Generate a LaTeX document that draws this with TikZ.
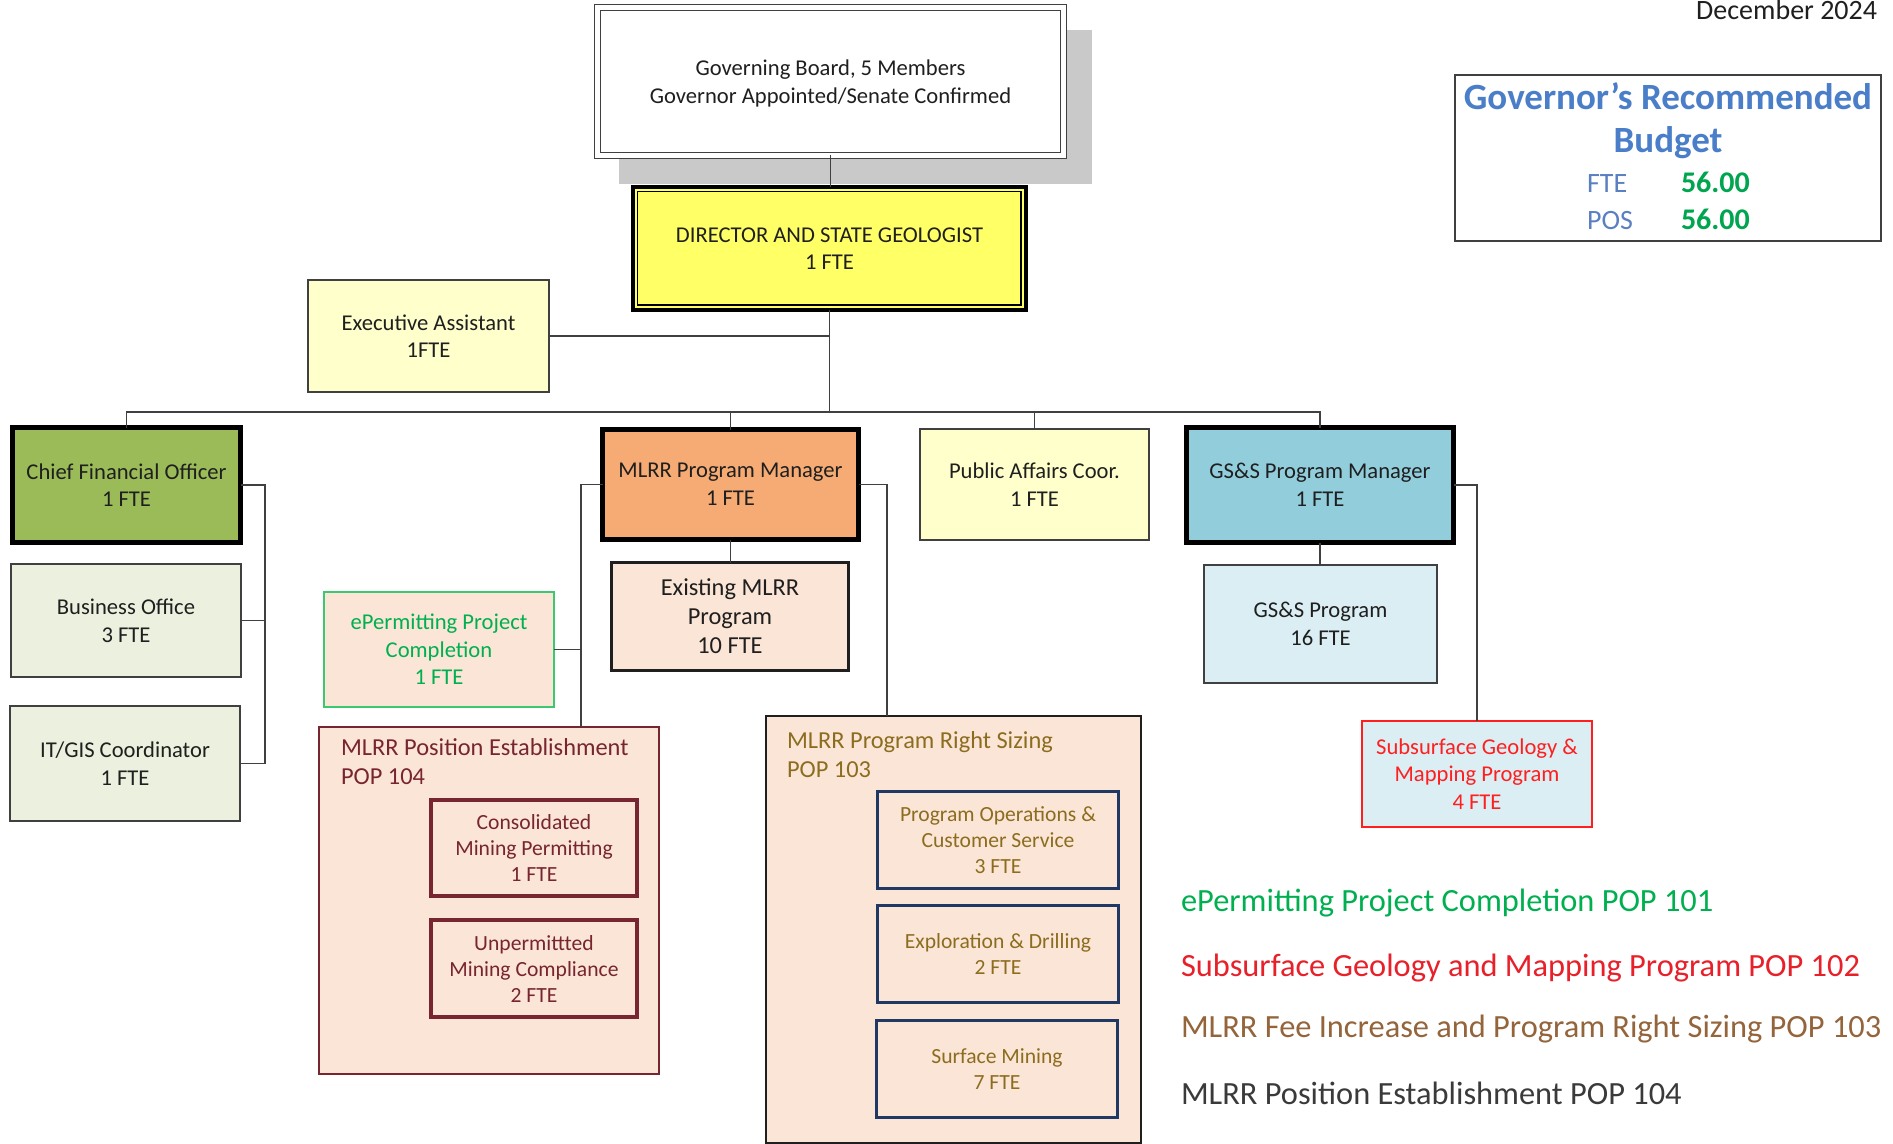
\documentclass[tikz,border=0pt]{standalone}
\usepackage{fontspec}
\setmainfont{Carlito}
\usetikzlibrary{calc}
\definecolor{ink}{HTML}{1F1F1F}
\definecolor{edge}{HTML}{404040}
\definecolor{shadowgray}{HTML}{C9C9C9}
\definecolor{diryellow}{HTML}{FFFF66}
\definecolor{paleyellow}{HTML}{FFFFCC}
\definecolor{cfogreen}{HTML}{9BBB59}
\definecolor{palegreen}{HTML}{EBF1DE}
\definecolor{mlrrorange}{HTML}{F5AB73}
\definecolor{peach}{HTML}{FBE5D6}
\definecolor{gssblue}{HTML}{92CDDC}
\definecolor{paleblue}{HTML}{DAEEF3}
\definecolor{epgreen}{HTML}{00B050}
\definecolor{epedge}{HTML}{3CC870}
\definecolor{ssred}{HTML}{FF1F1F}
\definecolor{maroonc}{HTML}{772530}
\definecolor{goldc}{HTML}{8C6D1F}
\definecolor{navyc}{HTML}{1F3864}
\definecolor{budblue}{HTML}{4A7EC8}
\definecolor{budlabel}{HTML}{5B80C2}
\definecolor{budgreen}{HTML}{00A54F}
\definecolor{legred}{HTML}{E8202A}
\definecolor{legbrown}{HTML}{94643A}
\definecolor{leggray}{HTML}{3A3A3A}
\newcommand\fsz[2]{\fontsize{#1}{#2}\selectfont}
\newcommand\bx[7]{%
  \pgfmathsetmacro\bxw{(#4-#2)*0.5}%
  \pgfmathsetmacro\bxh{(#5-#3)*0.5}%
  \node[boxbase,#6,minimum width=\bxw pt,minimum height=\bxh pt] (#1) at ({(#2+#4)/2},{(#3+#5)/2}) {#7};}
\begin{document}
\begin{tikzpicture}[x=0.5pt,y=-0.5pt,
  boxbase/.style={rectangle, inner sep=0pt, outer sep=0pt, align=center, text=ink, font=\fsz{11.3}{13.8}},
  thinbox/.style={draw=edge, line width=0.75pt},
  thickbox/.style={draw=black, line width=2.5pt},
  conn/.style={draw=edge, line width=0.7pt},
  label/.style={inner sep=0pt, outer sep=0pt},
  mtitle/.style={label, anchor=base west, font=\fsz{12.2}{14.5}},
  innerm/.style={fill=peach, draw=maroonc, line width=1.7pt, text=maroonc, font=\fsz{10.8}{13}},
  innern/.style={fill=peach, draw=navyc, line width=1.5pt, text=goldc, font=\fsz{10.8}{13}},
  legend/.style={label, anchor=base west, font=\fsz{16.2}{19}}
]
\useasboundingbox (0,0) rectangle (1893,1144);
\clip (0,0) rectangle (1893,1144);
\fill[white] (0,0) rectangle (1893,1144);

% date
\node[label, anchor=base east, font=\fsz{14}{16}, text=ink] (date) at (1877,20) {December 2024};

% budget box
\bx{bud}{1455}{75}{1881}{241}{fill=white, draw=edge, line width=0.8pt}{}
\node[label, anchor=base, font=\bfseries\fsz{18.5}{22}, text=budblue] (bt1) at (1668,110) {Governor’s Recommended};
\node[label, anchor=base, font=\bfseries\fsz{18.5}{22}, text=budblue] (bt2) at (1668,153) {Budget};
\node[label, anchor=base west, font=\fsz{14}{16}, text=budlabel] (bfte) at (1587,193) {FTE};
\node[label, anchor=base west, font=\bfseries\fsz{15}{17}, text=budgreen] (bftev) at (1681,193) {56.00};
\node[label, anchor=base west, font=\fsz{14}{16}, text=budlabel] (bpos) at (1587,230) {POS};
\node[label, anchor=base west, font=\bfseries\fsz{15}{17}, text=budgreen] (bposv) at (1681,230) {56.00};

% governing board with shadow
\fill[shadowgray] (619,30) rectangle (1092,184);
\bx{gov}{597.5}{7.5}{1063.5}{155.5}{fill=white, draw=edge, line width=0.7pt, double=white, double distance=2.2pt, text depth=0pt}{Governing Board, 5 Members\\Governor Appointed/Senate Confirmed}

% director
\bx{dir}{633}{187}{1026}{310}{fill=diryellow, draw=black, line width=2pt}{DIRECTOR AND STATE GEOLOGIST\\1 FTE}
\draw[line width=0.8pt] ($(dir.north west)+(4.5,4.5)$) rectangle ($(dir.south east)+(-5,-5)$);

% executive assistant
\bx{exa}{308}{280}{549}{392}{fill=paleyellow, thinbox}{Executive Assistant\\1FTE}

% CFO branch
\bx{cfo}{12.5}{427.5}{240.5}{542.5}{fill=cfogreen, thickbox}{Chief Financial Officer\\1 FTE}
\bx{bus}{11}{564}{241}{677}{fill=palegreen, thinbox}{Business Office\\3 FTE}
\bx{itg}{10}{706}{240}{821}{fill=palegreen, thinbox}{IT/GIS Coordinator\\1 FTE}

% MLRR branch
\bx{mgr}{602.5}{429.5}{858.5}{539.5}{fill=mlrrorange, thickbox}{MLRR Program Manager\\1 FTE}
\bx{exi}{611.5}{562.5}{848.5}{670.5}{fill=peach, draw=ink, line width=1.5pt, font=\fsz{12.2}{14.5}}{Existing MLRR\\Program\\10 FTE}
\bx{epm}{324}{592}{554}{707}{fill=peach, draw=epedge, line width=0.8pt, text=epgreen}{ePermitting Project\\Completion\\1 FTE}

\bx{pos}{319}{727}{659}{1074}{fill=peach, draw=maroonc, line width=1.1pt}{}
\node[mtitle, text=maroonc] (pot1) at (341,755) {MLRR Position Establishment};
\node[mtitle, text=maroonc] (pot2) at (341,784) {POP 104};
\bx{cmp}{431}{800}{637}{896}{innerm}{Consolidated\\Mining Permitting\\1 FTE}
\bx{umc}{431}{920}{637}{1017}{innerm}{Unpermittted\\Mining Compliance\\2 FTE}

\bx{rsz}{766}{716}{1141}{1143}{fill=peach, draw=ink, line width=1pt}{}
\node[mtitle, text=goldc] (rst1) at (787,748) {MLRR Program Right Sizing};
\node[mtitle, text=goldc] (rst2) at (787,777) {POP 103};
\bx{poc}{877.5}{791.5}{1118.5}{888.5}{innern}{Program Operations \&\\Customer Service\\3 FTE}
\bx{exd}{877.5}{905.5}{1118.5}{1002.5}{innern}{Exploration \& Drilling\\2 FTE}
\bx{smn}{876.5}{1020.5}{1117.5}{1117.5}{innern}{Surface Mining\\7 FTE}

% public affairs
\bx{pub}{920}{429}{1149}{540}{fill=paleyellow, thinbox}{Public Affairs Coor.\\1 FTE}

% GS&S branch
\bx{gsm}{1186.5}{427.5}{1453.5}{542.5}{fill=gssblue, thickbox}{GS\&S Program Manager\\1 FTE}
\bx{gsp}{1204}{565}{1437}{683}{fill=paleblue, thinbox}{GS\&S Program\\16 FTE}
\bx{ssf}{1362}{721}{1592}{827}{fill=paleblue, draw=ssred, line width=0.8pt, text=ssred}{Subsurface Geology \&\\Mapping Program\\4 FTE}

% connectors
\coordinate (bar) at (830,412);
\coordinate (cfob) at (265,487);
\coordinate (mlb) at (581,485);
\coordinate (mrb) at (887,485);
\draw[conn] (gov.south) -- (gov.south |- dir.north);
\draw[conn] (dir.south) -- (dir.south |- bar);
\draw[conn] (cfo.north) |- (bar) -| (gsm.north);
\draw[conn] (mgr.north) -- (mgr.north |- bar);
\draw[conn] (pub.north) -- (pub.north |- bar);
\draw[conn] (exa.east) -- (exa.east -| dir.south);
\draw[conn] (cfo.east) -| (cfob |- itg.east) -- (itg.east);
\draw[conn] (bus.east) -- (bus.east -| cfob);
\draw[conn] (mgr.west) -| (mlb |- pos.north);
\draw[conn] (epm.east) -- (epm.east -| mlb);
\draw[conn] (mgr.east) -| (mrb |- rsz.north);
\draw[conn] (mgr.south) -- (mgr.south |- exi.north);
\draw[conn] (gsm.south) -- (gsm.south |- gsp.north);
\draw[conn] (gsm.east) -| (ssf.north);

% legend
\node[legend, text=epgreen] (leg1) at (1181,911) {ePermitting Project Completion POP 101};
\node[legend, text=legred] (leg2) at (1181,976) {Subsurface Geology and Mapping Program POP 102};
\node[legend, text=legbrown] (leg3) at (1181,1037) {MLRR Fee Increase and Program Right Sizing POP 103};
\node[legend, text=leggray] (leg4) at (1181,1104) {MLRR Position Establishment POP 104};
\end{tikzpicture}
\end{document}
